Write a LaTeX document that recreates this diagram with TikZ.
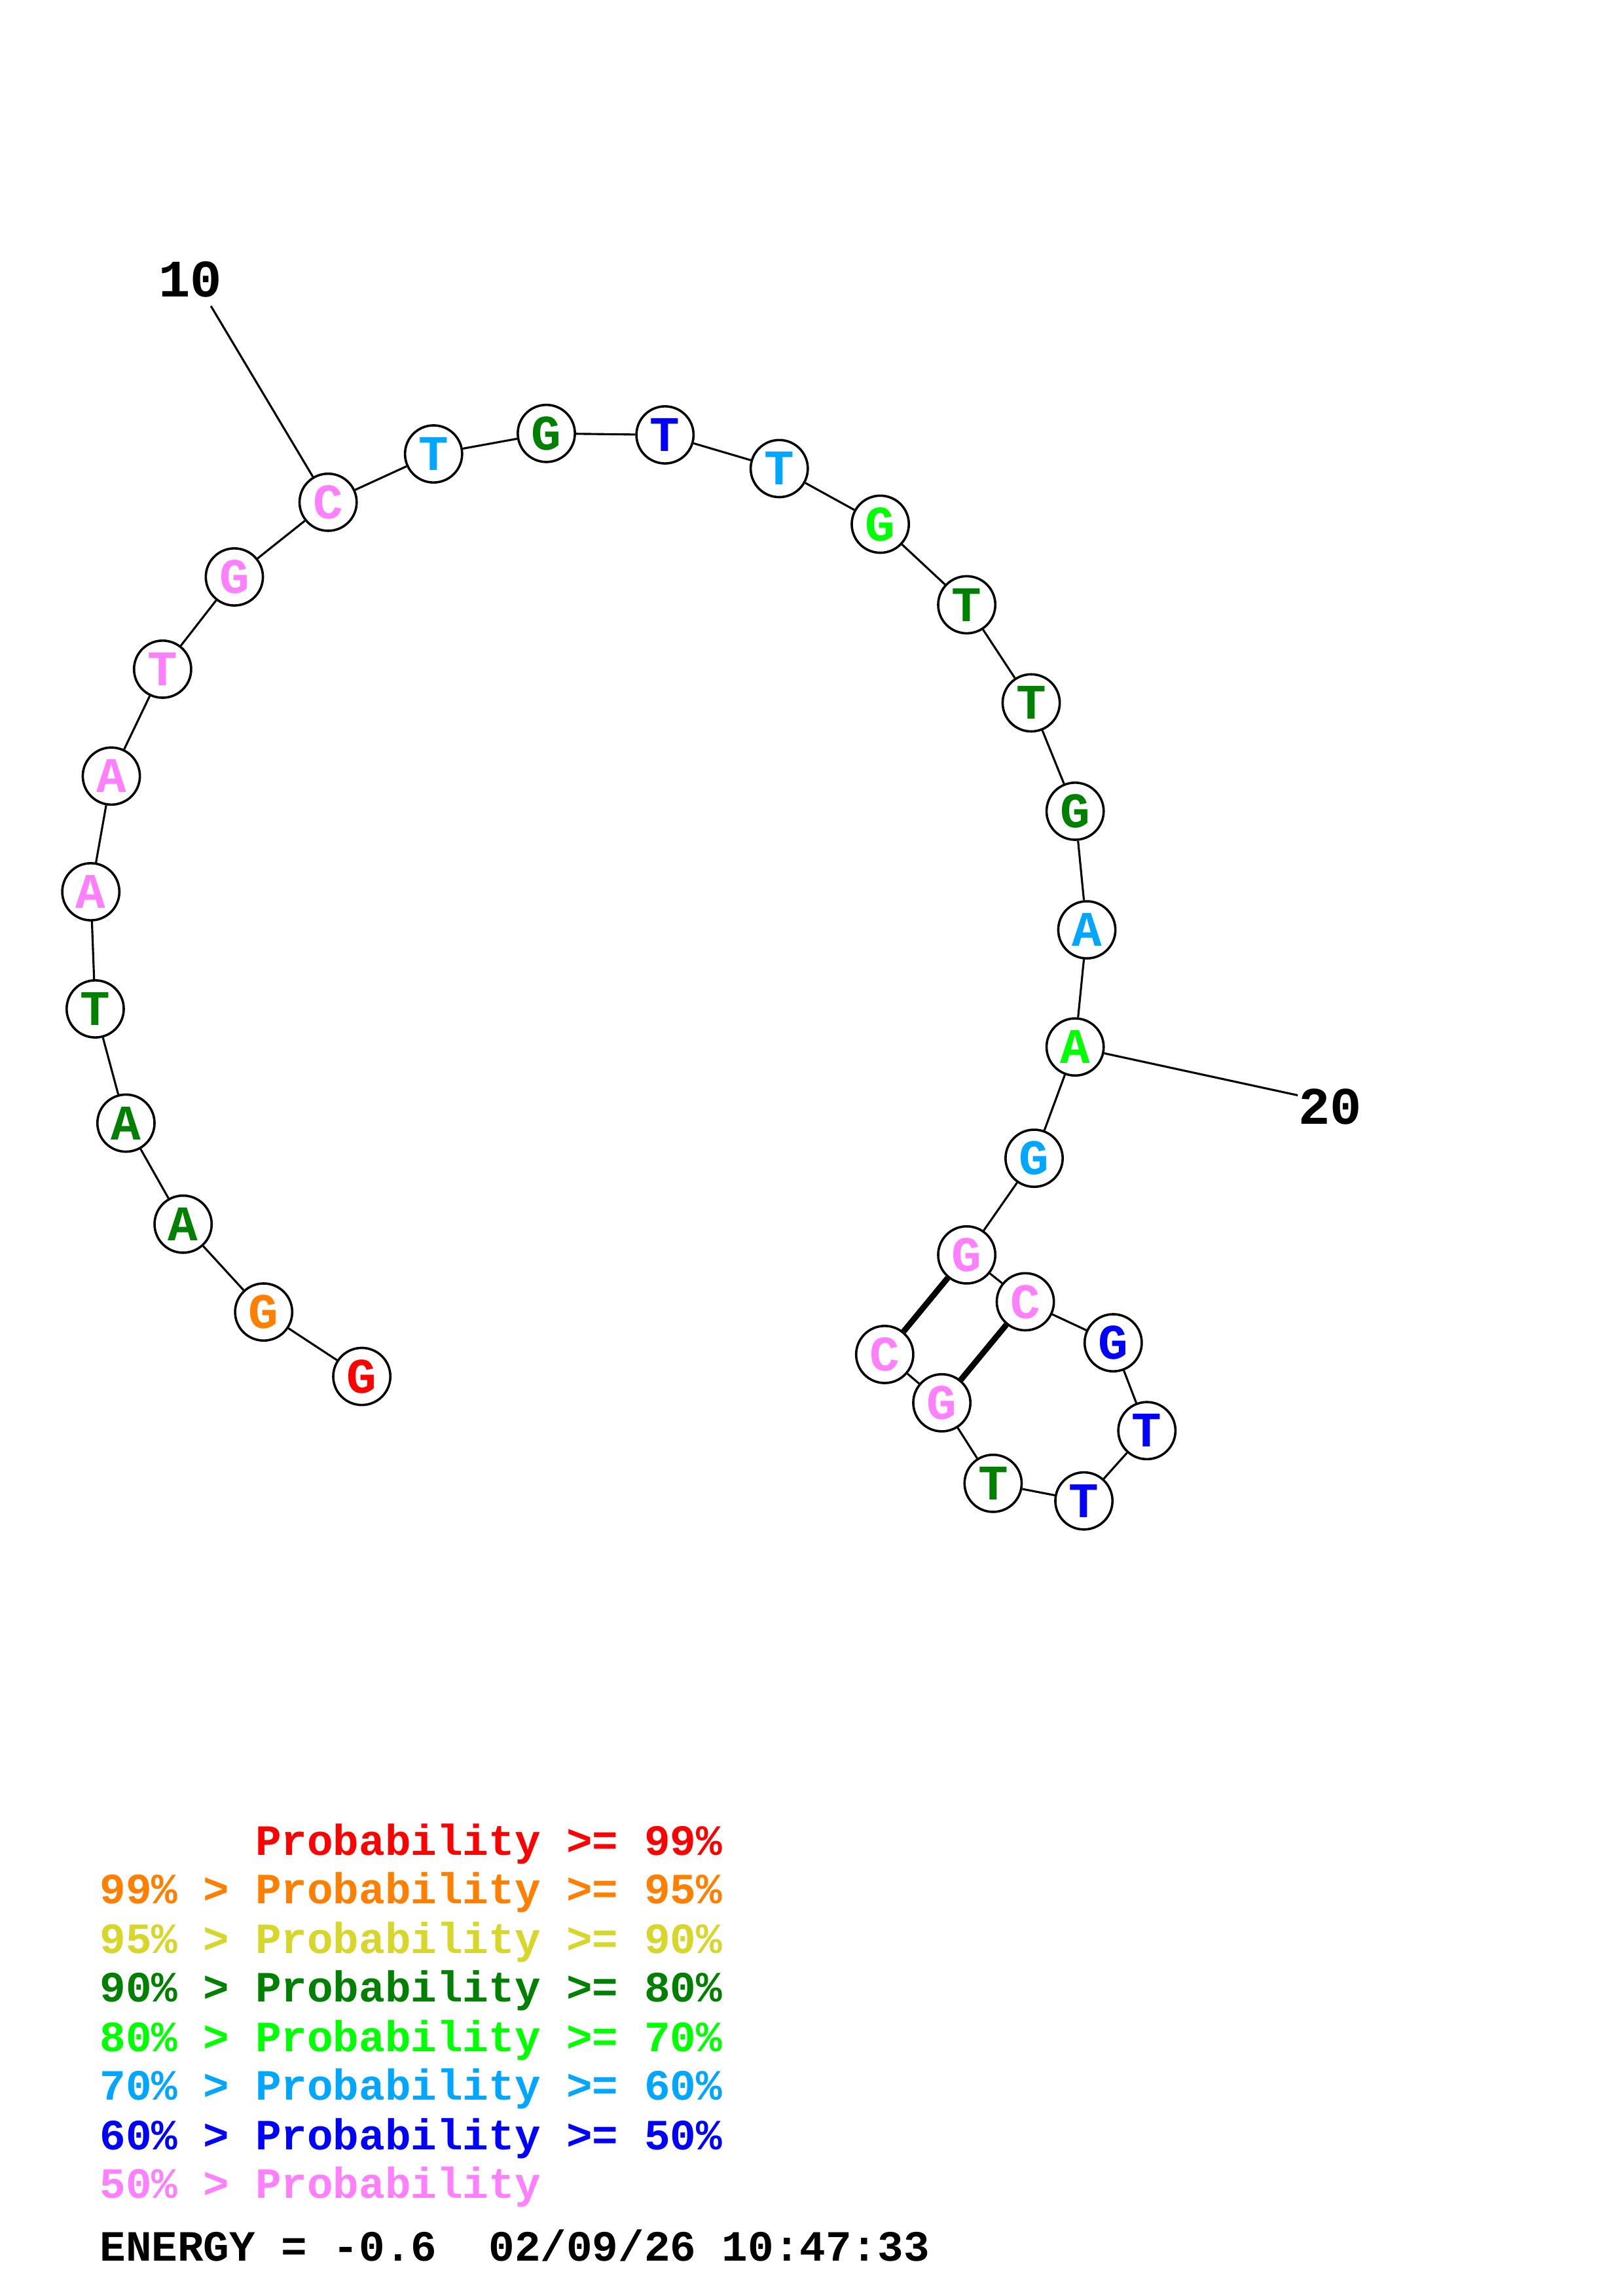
\documentclass[tikz,border=0pt]{standalone}
\usepackage{fontspec}
\setmonofont{Liberation Mono}
\definecolor{cred}{RGB}{255,0,0}
\definecolor{corange}{RGB}{255,128,0}
\definecolor{cyellow}{RGB}{214,214,43}
\definecolor{cdgreen}{RGB}{0,128,0}
\definecolor{cbgreen}{RGB}{0,255,0}
\definecolor{clblue}{RGB}{0,166,255}
\definecolor{cblue}{RGB}{0,0,255}
\definecolor{cpink}{RGB}{255,128,255}
\begin{document}
\begin{tikzpicture}[x=1pt,y=-1pt,
  base/.style={circle,draw=black,line width=1.6pt,fill=white,minimum size=39pt,inner sep=0pt,font=\ttfamily\bfseries\fontsize{34}{34}\selectfont},
  bb/.style={line width=1.4pt},
  pairline/.style={line width=4pt},
  leg/.style={anchor=base west,inner sep=0pt,font=\ttfamily\bfseries\fontsize{29.5}{30}\selectfont},
  num/.style={font=\ttfamily\bfseries\fontsize{36}{36}\selectfont,inner sep=0pt}]
\path[use as bounding box,fill=white] (0,0) rectangle (1108,1568);
% bases
\node[base,text=cred]    (n1)  at (247,940) {G};
\node[base,text=corange] (n2)  at (180,896) {G};
\node[base,text=cdgreen] (n3)  at (125,836) {A};
\node[base,text=cdgreen] (n4)  at (86,767) {A};
\node[base,text=cdgreen] (n5)  at (65,689) {T};
\node[base,text=cpink]   (n6)  at (62,609) {A};
\node[base,text=cpink]   (n7)  at (76,530) {A};
\node[base,text=cpink]   (n8)  at (111,457) {T};
\node[base,text=cpink]   (n9)  at (160,394) {G};
\node[base,text=cpink]   (n10) at (224,343) {C};
\node[base,text=clblue]  (n11) at (296,310) {T};
\node[base,text=cdgreen] (n12) at (373,296) {G};
\node[base,text=cblue]   (n13) at (454,297) {T};
\node[base,text=clblue]  (n14) at (532,320) {T};
\node[base,text=cbgreen] (n15) at (601,358) {G};
\node[base,text=cdgreen] (n16) at (660,413) {T};
\node[base,text=cdgreen] (n17) at (704,480) {T};
\node[base,text=cdgreen] (n18) at (734,554) {G};
\node[base,text=clblue]  (n19) at (742,635) {A};
\node[base,text=cbgreen] (n20) at (734,715) {A};
\node[base,text=clblue]  (n21) at (706,791) {G};
\node[base,text=cpink]   (n22) at (660,857) {G};
\node[base,text=cpink]   (n23) at (700,889) {C};
\node[base,text=cblue]   (n24) at (760,917) {G};
\node[base,text=cblue]   (n25) at (783,977) {T};
\node[base,text=cblue]   (n26) at (740,1025) {T};
\node[base,text=cdgreen] (n27) at (678,1013) {T};
\node[base,text=cpink]   (n28) at (643,958) {G};
\node[base,text=cpink]   (n29) at (604,925) {C};
% backbone
\foreach \a/\b in {1/2,2/3,3/4,4/5,5/6,6/7,7/8,8/9,9/10,10/11,11/12,12/13,13/14,14/15,15/16,16/17,17/18,18/19,19/20,20/21,21/22,22/23,23/24,24/25,25/26,26/27,27/28,28/29}
  \draw[bb] (n\a) -- (n\b);
% pairs
\draw[pairline] (n22) -- (n29);
\draw[pairline] (n23) -- (n28);
% numbering
\node[num] (l10) at (130,191) {10};
\coordinate (c10) at (144,209);
\draw[bb] (n10) -- (c10);
\node[num] (l20) at (908,756) {20};
\coordinate (c20) at (886,748);
\draw[bb] (n20) -- (c20);
% legend
\node[leg,text=cred]    (g1) at (174.2,1267) {Probability >= 99\%};
\node[leg,text=corange] (g2) at (68,1300) {99\% > Probability >= 95\%};
\node[leg,text=cyellow] (g3) at (68,1334) {95\% > Probability >= 90\%};
\node[leg,text=cdgreen] (g4) at (68,1367) {90\% > Probability >= 80\%};
\node[leg,text=cbgreen] (g5) at (68,1401) {80\% > Probability >= 70\%};
\node[leg,text=clblue]  (g6) at (68,1434) {70\% > Probability >= 60\%};
\node[leg,text=cblue]   (g7) at (68,1468) {60\% > Probability >= 50\%};
\node[leg,text=cpink]   (g8) at (68,1501) {50\% > Probability};
\node[leg,text=black]   (en) at (68,1544) {ENERGY = -0.6~~02/09/26 10:47:33};
\end{tikzpicture}
\end{document}
